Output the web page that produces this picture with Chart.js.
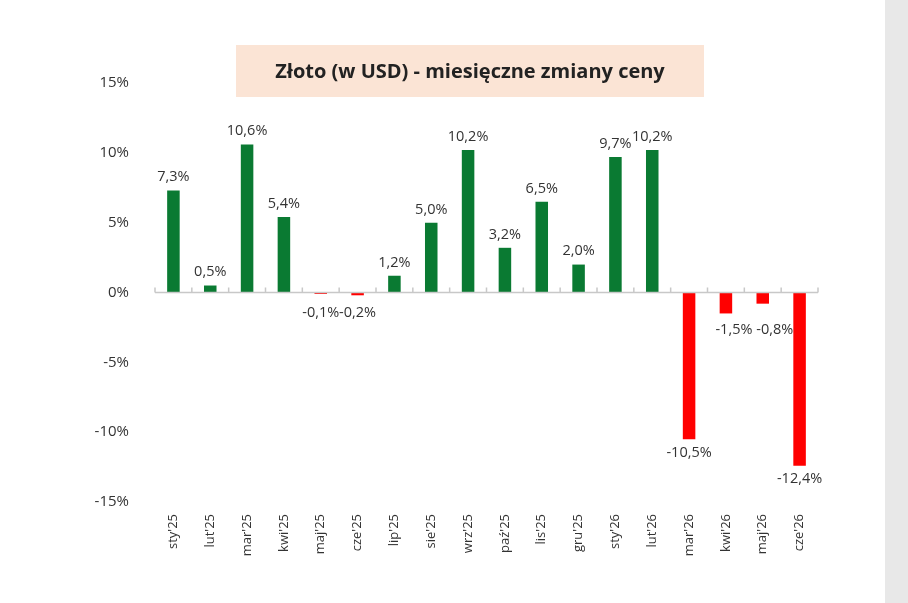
<!DOCTYPE html><html><head><meta charset="utf-8">
<script src="https://cdn.jsdelivr.net/npm/chart.js@4"></script>
<style>html,body{margin:0;background:#fff}#w{position:relative;width:908px;height:603px}</style></head><body>
<div id="w"><canvas id="c"></canvas></div>
<script>
const categories=["sty'25","lut'25","mar'25","kwi'25","maj'25","cze'25","lip'25","sie'25","wrz'25","paź'25","lis'25","gru'25","sty'26","lut'26","mar'26","kwi'26","maj'26","cze'26"];
const values=[7.3,0.5,10.6,5.4,-0.1,-0.2,1.2,5.0,10.2,3.2,6.5,2.0,9.7,10.2,-10.5,-1.5,-0.8,-12.4];
const yTicks=[-15,-10,-5,0,5,10,15];
const title="Złoto (w USD) - miesięczne zmiany ceny";
const fmt=v=>v.toFixed(1).replace('.',',')+'%';
const deco={id:'deco',
 beforeDraw(ch){const c=ch.ctx;c.save();c.fillStyle='#e8e8e8';c.fillRect(885,0,23,603);
  c.fillStyle='#fbe4d5';c.fillRect(236,45,468,52);
  c.fillStyle='#222';c.font='bold 20px "Open Sans", sans-serif';c.textAlign='center';c.textBaseline='middle';c.fillText(title,470,72);c.restore();},
 afterDatasetsDraw(ch){const c=ch.ctx,x=ch.scales.x,y=ch.scales.y,a=ch.chartArea;const y0=y.getPixelForValue(0);
  c.save();c.strokeStyle='#c8c8c8';c.lineWidth=1.5;c.beginPath();c.moveTo(a.left,y0);c.lineTo(a.right,y0);
  const w=(a.right-a.left)/categories.length;for(let i=0;i<=categories.length;i++){const px=a.left+i*w;c.moveTo(px,y0);c.lineTo(px,y0-5);}c.stroke();
  c.fillStyle='#333';c.font='14.5px "Open Sans", sans-serif';c.textAlign='center';
  const m=ch.getDatasetMeta(0);
  m.data.forEach((b,i)=>{const v=values[i];let px=b.x,py;
   if(v>=0){c.textBaseline='bottom';py=b.y-6;}else{c.textBaseline='top';py=(Math.abs(v)<1?y0+13:b.y+6);}
   if(i===15){px+=8;py=y0+30;} if(i===16){px+=12;py=y0+30;}
   c.fillText(fmt(v),px,py);});
  c.restore();}};
new Chart(document.getElementById('c'),{type:'bar',
 data:{labels:categories,datasets:[{data:values,backgroundColor:values.map(v=>v>=0?'#0a7a32':'#ff0000'),barPercentage:0.34,categoryPercentage:1}]},
 plugins:[deco],
 options:{responsive:true,maintainAspectRatio:false,animation:false,devicePixelRatio:1,
  layout:{padding:{left:85,right:90,top:83,bottom:8}},
  plugins:{legend:{display:false},tooltip:{enabled:false}},
  scales:{
   x:{grid:{display:false},border:{display:false},afterFit(s){s.height=93;},
      ticks:{color:'#333',font:{size:13,family:'"Open Sans", sans-serif'},maxRotation:90,minRotation:90,padding:4}},
   y:{min:-15,max:15,afterBuildTicks(s){s.ticks=yTicks.map(v=>({value:v}));},afterFit(s){s.width=70;},
      grid:{display:false},border:{display:false},
      ticks:{color:'#333',font:{size:15,family:'"Open Sans", sans-serif'},padding:18,callback:v=>v+'%'}}}}});
</script></body></html>
